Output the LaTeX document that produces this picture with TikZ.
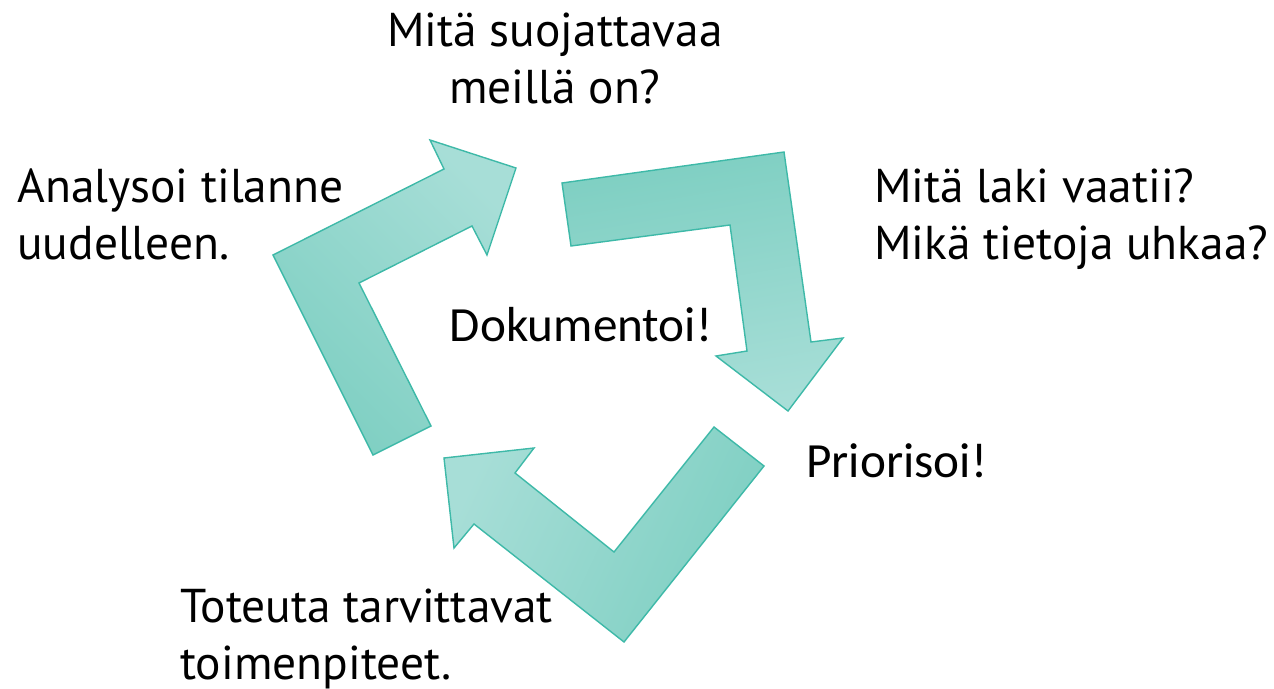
\documentclass[tikz,border=0pt]{standalone}
\usepackage{fontspec}
\setmainfont{PT Sans}
\newfontfamily\calibrifont{Carlito}
\usepackage{tikz}

\definecolor{tealdark}{RGB}{126,207,194}
\definecolor{teallight}{RGB}{167,222,215}
\definecolor{tealline}{RGB}{62,185,168}

\begin{document}
\begin{tikzpicture}[x=0.02cm,y=-0.02cm,
	bigtext/.style={inner sep=0pt,font=\fontsize{27}{32.4}\selectfont},
	calibtext/.style={inner sep=0pt,font=\calibrifont\fontsize{28}{33.6}\selectfont},
	cyclearrow/.style={draw=tealline,line width=0.8pt,line join=miter}]
	\useasboundingbox (0,0) rectangle (1274,689);
	\shadedraw[cyclearrow,bottom color=tealdark,top color=teallight,shading angle=-45] (373,455) -- (273,255) -- (444,169) -- (430,140) -- (516,168) -- (487,255) -- (472,226) -- (359,283) -- (431,426) -- cycle;
	\shadedraw[cyclearrow,top color=tealdark,bottom color=teallight,shading angle=10] (562,183) -- (784,152) -- (811,342) -- (843,338) -- (788,411) -- (716,356) -- (747,351) -- (730,225) -- (571,246) -- cycle;
	\shadedraw[cyclearrow,bottom color=tealdark,top color=teallight,shading angle=65] (714,427) -- (764,466) -- (624,642) -- (474,524) -- (454,548) -- (444,458) -- (534,448) -- (515,473) -- (614,552) -- cycle;
	\node[bigtext,anchor=north,align=center] (protect) at (555,13) {Mitä suojattavaa\\meillä on?};
	\node[bigtext,anchor=north west,align=left] (law) at (874,168) {Mitä laki vaatii?\\Mikä tietoja uhkaa?};
	\node[bigtext,anchor=north west,align=left] (reanalyse) at (17,168) {Analysoi tilanne\\uudelleen.};
	\node[bigtext,anchor=north west,align=left] (implement) at (180,589) {Toteuta tarvittavat\\toimenpiteet.};
	\node[calibtext,anchor=base] (document) at (581,341) {Dokumentoi!};
	\node[calibtext,anchor=base west] (prioritise) at (806,477) {Priorisoi!};
\end{tikzpicture}
\end{document}
